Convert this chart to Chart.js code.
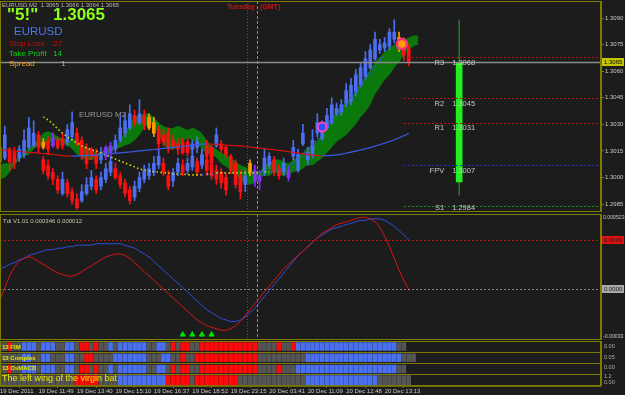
<!DOCTYPE html>
<html><head><meta charset="utf-8">
<script src="https://cdn.jsdelivr.net/npm/chart.js@4.4.1/dist/chart.umd.min.js"></script>
<style>
html,body{margin:0;padding:0;background:#1c1c1c;}
#wrap{position:relative;width:625px;height:395px;overflow:hidden;background:#1c1c1c;font-family:"Liberation Sans",Arial,sans-serif;}
canvas{position:absolute;left:0;}
.t{position:absolute;white-space:nowrap;line-height:1;}
</style></head><body>
<div id="wrap">
<canvas id="cMain" width="625" height="213" style="top:0;width:625px;height:213px"></canvas>
<canvas id="cTdi" width="625" height="127" style="top:213px;width:625px;height:127px"></canvas>
<canvas id="cBars" width="625" height="55" style="top:340px;width:625px;height:55px"></canvas>

<div class="t" style="left:2px;top:2px;font-size:6px;color:#b8b8b8">EURUSD,M2&nbsp; 1.3065 1.3066 1.3064 1.3065</div>
<div class="t" style="left:7px;top:6px;font-size:17px;font-weight:bold;color:#8cff1a">"5!"</div>
<div class="t" style="left:53px;top:6px;font-size:17px;font-weight:bold;color:#8cff1a">1.3065</div>
<div class="t" style="left:14px;top:26px;font-size:11.5px;color:#4a78f0">EURUSD</div>
<div class="t" style="left:9px;top:40px;font-size:8px;color:#e00000">Stop Loss</div>
<div class="t" style="left:53px;top:40px;font-size:8px;color:#e00000">27</div>
<div class="t" style="left:9px;top:50px;font-size:8px;color:#10d010">Take Profit</div>
<div class="t" style="left:53px;top:50px;font-size:8px;color:#10d010">14</div>
<div class="t" style="left:9px;top:60px;font-size:8px;color:#ffa020">Spread</div>
<div class="t" style="left:61px;top:60px;font-size:8px;color:#ffa020">1</div>
<div class="t" style="left:79px;top:111px;font-size:8px;color:#9a9a9a">EURUSD M2</div>
<div class="t" style="left:227px;top:3px;font-size:7px;font-weight:bold;color:#d01010">Tuesday</div>
<div class="t" style="left:260px;top:3px;font-size:7px;font-weight:bold;color:#d01010">(GMT)</div>
<div class="t" style="left:3px;top:218px;font-size:6px;color:#c8c8a8">Tdi V1.01 0.000346 0.000012</div>
<div class="t" style="left:2px;top:344px;font-size:6px;font-weight:bold;color:#e8e800">13 FIM</div>
<div class="t" style="left:2px;top:355px;font-size:6px;font-weight:bold;color:#e8e800">13 Complex</div>
<div class="t" style="left:2px;top:365px;font-size:6px;font-weight:bold;color:#e8e800">13 OsMACD</div>
<div class="t" style="left:2px;top:374px;font-size:9px;color:#e8e800">The left wing of the virgin bat</div>
<div class="t" style="left:604px;top:344px;font-size:5.5px;color:#b0b0a0">0.00</div>
<div class="t" style="left:604px;top:355px;font-size:5.5px;color:#b0b0a0">0.05</div>
<div class="t" style="left:604px;top:365px;font-size:5.5px;color:#b0b0a0">0.00</div>
<div class="t" style="left:604px;top:374px;font-size:5.5px;color:#b0b0a0">1.2</div>
<div class="t" style="left:604px;top:380px;font-size:5.5px;color:#b0b0a0">0.00</div>
</div>
<script>
// ---------------- DATA ----------------
const timeLabels = ["19 Dec 2011","19 Dec 11:49","19 Dec 13:40","19 Dec 15:10","19 Dec 16:37","19 Dec 18:52","19 Dec 23:15","20 Dec 03:41","20 Dec 11:09","20 Dec 12:48","20 Dec 13:13"];
const priceTicks = [1.2985,1.3000,1.3015,1.3030,1.3045,1.3060,1.3075,1.3090];

const openA = [1.3009,1.3011,1.3016,1.3014,1.3011,1.3013,1.3017,1.3018,1.3024,1.3017,
1.3021,1.3018,1.3021,1.3022,1.3020,1.3023,1.3025,1.3021,1.3017,1.3016,
1.3013,1.3010,1.3012,1.3014,1.3016,1.3021,1.3025,1.3028,1.3035,1.3031,
1.3035,1.3028,1.3031,1.3027,1.3024,1.3025,1.3021,1.3019,1.3020,1.3020,
1.3016,1.3017,1.3008,1.3018,1.3017,1.3018,1.3019,1.3017,1.3012,1.3008,
1.3001,1.2996,1.3003,1.3004,1.2998,1.3003,1.3007,1.3010,1.3005,1.3003,
1.3000,1.3012,1.3004,1.3019,1.3010,1.3013,1.3025,1.3022,1.3028,1.3031,
1.3036,1.3037,1.3042,1.3043,1.3048,1.3052,1.3057,1.3062,1.3067,1.3072,
1.3073,1.3074,1.3078,1.3079,1.3076,1.3073];
const closeA = [1.3017,1.3024,1.3009,1.3008,1.3016,1.3021,1.3028,1.3025,1.3017,1.3020,
1.3016,1.3022,1.3017,1.3018,1.3027,1.3031,1.3019,1.3012,1.3008,1.3012,
1.3008,1.3014,1.3017,1.3018,1.3021,1.3028,1.3032,1.3036,1.3031,1.3036,
1.3030,1.3034,1.3025,1.3019,1.3020,1.3017,1.3018,1.3016,1.3014,1.3014,
1.3019,1.3020,1.3013,1.3012,1.3008,1.3024,1.3016,1.3013,1.3004,1.2996,
1.2992,1.3001,1.3008,1.2998,1.3001,1.3011,1.3012,1.3003,1.3001,1.3008,
1.3004,1.3017,1.3013,1.3025,1.3014,1.3021,1.3031,1.3029,1.3035,1.3041,
1.3039,1.3041,1.3049,1.3052,1.3058,1.3062,1.3067,1.3072,1.3078,1.3075,
1.3076,1.3082,1.3082,1.3073,1.3069,1.3065];
const highA = [1.3021,1.3029,1.3017,1.3017,1.3018,1.3027,1.3034,1.3032,1.3026,1.3022,
1.3023,1.3025,1.3023,1.3025,1.3030,1.3037,1.3028,1.3023,1.3019,1.3017,
1.3016,1.3017,1.3018,1.3020,1.3024,1.3034,1.3036,1.3041,1.3038,1.3044,
1.3038,1.3036,1.3034,1.3029,1.3027,1.3028,1.3024,1.3022,1.3022,1.3022,
1.3021,1.3023,1.3016,1.3021,1.3018,1.3028,1.3021,1.3018,1.3013,1.3010,
1.3004,1.3004,1.3010,1.3007,1.3004,1.3016,1.3014,1.3012,1.3007,1.3011,
1.3006,1.3021,1.3016,1.3030,1.3017,1.3027,1.3036,1.3032,1.3039,1.3045,
1.3042,1.3044,1.3053,1.3056,1.3061,1.3065,1.3071,1.3075,1.3082,1.3078,
1.3079,1.3084,1.3089,1.3082,1.3079,1.3075];
const lowA = [1.3007,1.3010,1.3004,1.3005,1.3009,1.3011,1.3016,1.3017,1.3014,1.3016,
1.3013,1.3017,1.3016,1.3016,1.3018,1.3021,1.3018,1.3010,1.3005,1.3010,
1.3005,1.3008,1.3010,1.3012,1.3014,1.3020,1.3023,1.3027,1.3029,1.3030,
1.3027,1.3027,1.3023,1.3016,1.3018,1.3014,1.3016,1.3013,1.3013,1.3012,
1.3013,1.3014,1.3006,1.3010,1.3006,1.3017,1.3014,1.3011,1.3002,1.2994,
1.2988,1.2992,1.3001,1.2995,1.2993,1.3001,1.3005,1.3001,1.2999,1.3001,
1.2998,1.3010,1.3003,1.3018,1.3007,1.3011,1.3023,1.3021,1.3027,1.3030,
1.3035,1.3035,1.3040,1.3041,1.3046,1.3051,1.3055,1.3061,1.3066,1.3070,
1.3071,1.3072,1.3076,1.3071,1.3066,1.3063];
const orangeBarsA = [9,31,32,52,83];
const purpleBarsA = [11,22,23,53,54,60];

const overlayStart = 9;
const openB = [1.3010,1.3007,1.3003,1.2999,1.2991,1.2997,1.2992,1.2988,1.2987,1.2991,1.2995,1.2999,1.2995,1.2999,1.3003,1.3005,1.3001,1.2997,1.2993,1.2989,1.2994,1.2999,1.3001,1.3003,1.3007,1.3008,1.3001,1.2998,1.3003,1.3007,1.3004,1.3006,1.3009,1.3007,1.3010,1.3007,1.3004,1.3003,1.3000];
const closeB = [1.3004,1.3001,1.2999,1.2993,1.2999,1.2991,1.2987,1.2983,1.2992,1.2996,1.3000,1.2993,1.3000,1.3005,1.3009,1.3000,1.2996,1.2991,1.2987,1.2995,1.3000,1.3004,1.3005,1.3008,1.3012,1.3003,1.2995,1.3003,1.3008,1.3003,1.3008,1.3012,1.3003,1.3012,1.3004,1.3001,1.2999,1.2997,1.2993];
const highB = [1.3012,1.3010,1.3005,1.3001,1.3003,1.2999,1.2994,1.2991,1.2996,1.3000,1.3004,1.3001,1.3003,1.3008,1.3012,1.3008,1.3003,1.2999,1.2995,1.2998,1.3003,1.3007,1.3008,1.3012,1.3016,1.3011,1.3004,1.3005,1.3011,1.3010,1.3011,1.3016,1.3011,1.3016,1.3013,1.3010,1.3007,1.3005,1.3002];
const lowB = [1.3002,1.2999,1.2996,1.2991,1.2990,1.2989,1.2985,1.2982,1.2986,1.2990,1.2993,1.2991,1.2993,1.2997,1.3001,1.2999,1.2994,1.2989,1.2985,1.2987,1.2992,1.2997,1.2999,1.3001,1.3005,1.3001,1.2993,1.2995,1.3001,1.3001,1.3002,1.3004,1.3001,1.3005,1.3001,1.2999,1.2996,1.2994,1.2990];

const spanA = [1.3007,1.3008,1.3008,1.3009,1.3012,1.3014,1.3017,1.3019,1.3022,1.3025,
1.3026,1.3025,1.3023,1.3022,1.3021,1.3022,1.3021,1.3019,1.3017,1.3016,
1.3014,1.3014,1.3017,1.3017,1.3018,1.3021,1.3026,1.3030,1.3034,1.3035,
1.3036,1.3036,1.3034,1.3031,1.3029,1.3028,1.3028,1.3029,1.3028,1.3027,
1.3028,1.3027,1.3025,1.3021,1.3018,1.3016,1.3014,1.3013,1.3011,1.3009,
1.3007,1.3006,1.3004,1.3003,1.3003,1.3007,1.3008,1.3010,1.3010,1.3009,
1.3008,1.3010,1.3012,1.3014,1.3017,1.3018,1.3021,1.3025,1.3030,1.3034,
1.3037,1.3040,1.3043,1.3045,1.3049,1.3053,1.3057,1.3061,1.3065,1.3068,
1.3071,1.3073,1.3075,1.3077,1.3078,1.3079,1.3080,1.3080];
const spanB = [1.2999,1.3000,1.3003,1.3007,1.3010,1.3012,1.3013,1.3016,1.3018,1.3018,
1.3019,1.3021,1.3021,1.3020,1.3018,1.3016,1.3013,1.3011,1.3010,1.3010,
1.3011,1.3013,1.3013,1.3014,1.3016,1.3017,1.3018,1.3019,1.3021,1.3024,
1.3028,1.3030,1.3029,1.3024,1.3019,1.3016,1.3016,1.3017,1.3020,1.3022,
1.3021,1.3019,1.3016,1.3014,1.3013,1.3011,1.3008,1.3006,1.3004,1.3001,
1.2999,1.2996,1.2996,1.2997,1.3000,1.3001,1.3001,1.3003,1.3002,1.3001,
1.3002,1.3003,1.3004,1.3005,1.3007,1.3007,1.3009,1.3011,1.3014,1.3017,
1.3020,1.3022,1.3024,1.3027,1.3030,1.3034,1.3037,1.3041,1.3047,1.3051,
1.3055,1.3058,1.3062,1.3065,1.3069,1.3072,1.3074,1.3075];

const maLine = [1.30156,1.30154,1.30151,1.30149,1.30147,1.30144,1.30142,1.30140,1.30137,1.30135,
1.30133,1.30130,1.30127,1.30124,1.30122,1.30121,1.30122,1.30123,1.30124,1.30126,
1.30127,1.30130,1.30132,1.30134,1.30137,1.30139,1.30142,1.30144,1.30147,1.30150,
1.30153,1.30156,1.30158,1.30161,1.30164,1.30167,1.30170,1.30172,1.30175,1.30178,
1.30181,1.30185,1.30188,1.30189,1.30188,1.30187,1.30185,1.30183,1.30181,1.30179,
1.30178,1.30175,1.30172,1.30169,1.30166,1.30163,1.30160,1.30157,1.30153,1.30150,
1.30146,1.30142,1.30138,1.30134,1.30130,1.30126,1.30123,1.30122,1.30123,1.30125,
1.30128,1.30132,1.30137,1.30143,1.30149,1.30155,1.30162,1.30169,1.30177,1.30185,
1.30194,1.30203,1.30213,1.30224,1.30236,1.30249];

const dotStart = 9;
const dotLine = [1.30342,1.30325,1.30302,1.30274,1.30251,1.30229,1.30212,1.30195,1.30178,1.30167,
1.30156,1.30150,1.30139,1.30127,1.30116,1.30105,1.30093,1.30082,1.30071,1.30060,
1.30048,1.30043,1.30037,1.30031,1.30031,1.30026,1.30026,1.30020,1.30020,1.30020,
1.30015,1.30015,1.30015,1.30015,1.30020,1.30020,1.30026,1.30026,1.30026,1.30026,
1.30026,1.30026,1.30026,1.30026,1.30026,1.30026,1.30031,1.30031,1.30037,1.30043,
1.30054,1.30065,1.30082,1.30105,1.30127,1.30156,1.30184,1.30218,1.30251,1.30285,
1.30319,1.30353,1.30387,1.30421,1.30454,1.30488,1.30522,1.30556,1.30590,1.30624,
1.30657,1.30691];

const pivotNames = ["R3","R2","R1","FPV","S1"];
const pivotValues = [1.3068,1.3045,1.3031,1.3007,1.2984];
const pivotStartX = 84;
const dayBarX = 95.5;
const dayBody = [1.29975,1.3065];
const dayRange = [1.2990,1.3089];
const sessionX = [51.4,53.5];

const signalRingX = [67], signalRingY = [1.30285];
const signalFlowerX = [83.6], signalFlowerY = [1.30753];

const tdiBlue = [0.00015,0.00016,0.00018,0.00019,0.00021,0.00022,0.00024,0.00025,0.00026,0.00027,
0.00028,0.00028,0.00029,0.00029,0.00030,0.00030,0.00031,0.00031,0.00031,0.00031,
0.00032,0.00032,0.00032,0.00032,0.00032,0.00032,0.00031,0.00030,0.00029,0.00027,
0.00025,0.00023,0.00020,0.00017,0.00014,0.00011,0.00008,0.00005,0.00002,-0.00001,
-0.00004,-0.00007,-0.00010,-0.00013,-0.00015,-0.00017,-0.00019,-0.00020,-0.00021,-0.00021,
-0.00020,-0.00018,-0.00015,-0.00012,-0.00008,-0.00004,0.00000,0.00004,0.00008,0.00012,
0.00016,0.00020,0.00024,0.00027,0.00030,0.00033,0.00036,0.00038,0.00040,0.00042,
0.00043,0.00044,0.00045,0.00046,0.00047,0.00048,0.00048,0.00049,0.00049,0.00049,
0.00048,0.00046,0.00044,0.00041,0.00038,0.000346];
const tdiRed = [-0.00006,0.00002,0.00010,0.00016,0.00020,0.00022,0.00023,0.00022,0.00020,0.00018,
0.00016,0.00014,0.00012,0.00011,0.00010,0.00010,0.00011,0.00013,0.00015,0.00017,
0.00019,0.00021,0.00023,0.00024,0.00025,0.00025,0.00024,0.00022,0.00019,0.00016,
0.00013,0.00010,0.00007,0.00004,0.00001,-0.00002,-0.00005,-0.00008,-0.00011,-0.00014,
-0.00017,-0.00020,-0.00022,-0.00024,-0.00025,-0.00026,-0.00027,-0.00027,-0.00026,-0.00024,
-0.00021,-0.00017,-0.00013,-0.00009,-0.00005,-0.00001,0.00003,0.00007,0.00011,0.00015,
0.00018,0.00021,0.00024,0.00027,0.00030,0.00033,0.00036,0.00039,0.00041,0.00043,
0.00045,0.00046,0.00047,0.00048,0.00049,0.00050,0.00050,0.00049,0.00047,0.00043,
0.00037,0.00030,0.00022,0.00014,0.00007,0.000012];
const tdiMin = -0.00033, tdiMax = 0.000523;
const arrowX = [38,40,42,44];
const arrowLevel = -0.0003;

const rowFIM     = "ggrggbbbgbbbggbbgrrgrggbgbbbbbbggbbgrgrrggrrrrrrrrrrrrggggrggrbbbbbbbbbbbbbbbbbbbbbgg";
const rowComplex = "gggggbbggbbgggbbggrrggggbbbbbbbgggbbggrggrrrrrrrrrrrrrggggggggggbbbbbbbbbbbbbbbbbbbbggg";
const rowOsMACD  = "ggrggbbbgbbbggbbgrrgrggbgbbbbbbggbbgrgrrggrrrrrrrrrrrrggggrgggbbbbbbbbbbbbbbbbbbbbbgg";
const rowBat     = "ggggggggggggggggrrrrrggggbbbbbbbbbbrrrrrgrrrrrrrrrggggggggggggggbbbbbbbbbbbbbbbggggggg";

// ---------------- STYLE ----------------
const OLIVE = '#7c7c00';
const UP = '#4a6ff0', DOWN = '#ff1010', ORANGE = '#ff9a00', PURPLE = '#8030ff';
const FONT = '"Liberation Sans", Arial, sans-serif';
const X_MAX = 125;
const cellColor = {b:'#4a70f0', r:'#ff0a0a', g:'#555555'};

const xy = (arr, start=0) => arr.map((v,k)=>({x:k+start, y:v}));
function candleSets(open, close, high, low, start, orange, purple, order){
  const cols = open.map((o,k)=> orange.includes(k+start)?ORANGE : purple.includes(k+start)?PURPLE : (close[k]>=o?UP:DOWN));
  return [
    {type:'bar', data: high.map((h,k)=>({x:k+start, y:[low[k],h]})), backgroundColor: cols, barThickness:1, grouped:false, order: order+1},
    {type:'bar', data: open.map((o,k)=>({x:k+start, y:[o,close[k]]})), backgroundColor: cols, barThickness:3, grouped:false, minBarLength:1, order}
  ];
}
function rightAxis(extra){
  return Object.assign({
    position:'right',
    afterFit(s){ s.width = 24; s.paddingTop = 0; s.paddingBottom = 0; },
    border:{display:true, color:OLIVE, width:1},
    grid:{drawOnChartArea:false, drawTicks:true, tickLength:3, color:OLIVE},
    ticks:{color:'#c8c8c8', font:{family:FONT, size:6}, padding:1}
  }, extra);
}
const hiddenX = {type:'linear', min:0, max:X_MAX, offset:false, display:false};

function drawSessions(chart){
  const {ctx, chartArea:a, scales:{x}} = chart;
  ctx.save();
  sessionX.forEach((v,k)=>{
    const px = Math.round(x.getPixelForValue(v)) + 0.5;
    ctx.strokeStyle = k ? '#a0a000' : '#5c5c3c';
    ctx.setLineDash(k ? [3,2] : [1,2]);
    ctx.lineWidth = 1;
    ctx.beginPath(); ctx.moveTo(px, a.top); ctx.lineTo(px, a.bottom); ctx.stroke();
  });
  ctx.restore();
}
function drawFrame(chart){
  const {ctx, chartArea:a} = chart;
  ctx.save(); ctx.strokeStyle = OLIVE; ctx.lineWidth = 1;
  ctx.strokeRect(a.left+0.5, a.top+0.5, a.right-a.left-1, a.bottom-a.top);
  ctx.restore();
}
const pivotColor = n => n[0]==='R' ? '#c01010' : n[0]==='S' ? '#10a010' : '#2030c8';

const mainOverlay = {
  id:'mainOverlay',
  beforeDatasetsDraw(chart){ drawSessions(chart); },
  afterDatasetsDraw(chart){
    const {ctx, chartArea:a, scales:{x,y}} = chart;
    ctx.save();
    const x0 = x.getPixelForValue(pivotStartX);
    pivotValues.forEach((v,k)=>{
      const py = Math.round(y.getPixelForValue(v)) + 0.5;
      ctx.strokeStyle = pivotColor(pivotNames[k]); ctx.setLineDash([2,2]); ctx.lineWidth = 1;
      ctx.beginPath(); ctx.moveTo(x0, py); ctx.lineTo(a.right, py); ctx.stroke();
    });
    const cp = closeA[closeA.length-1];
    const cy = Math.round(y.getPixelForValue(cp)) + 0.5;
    ctx.setLineDash([]); ctx.strokeStyle = '#8a8a8a'; ctx.lineWidth = 1.5;
    ctx.beginPath(); ctx.moveTo(a.left, cy); ctx.lineTo(a.right, cy); ctx.stroke();
    const bx = x.getPixelForValue(dayBarX);
    ctx.font = '7.5px ' + FONT; ctx.fillStyle = '#c8c8c8'; ctx.textBaseline = 'top';
    pivotValues.forEach((v,k)=>{
      const py = Math.min(y.getPixelForValue(v) + 2, a.bottom - 7);
      ctx.textAlign = 'right'; ctx.fillText(pivotNames[k], bx - 15, py);
      ctx.textAlign = 'left'; ctx.fillText(v.toFixed(4), bx - 7, py);
    });
    ctx.restore();
  },
  afterDraw(chart){
    drawFrame(chart);
    const {ctx, chartArea:a, scales:{y}} = chart;
    const cp = closeA[closeA.length-1];
    const py = y.getPixelForValue(cp);
    ctx.save();
    ctx.fillStyle = '#c4c400'; ctx.fillRect(a.right+1, Math.round(py)-4, 22, 8);
    ctx.fillStyle = '#000'; ctx.font = '6px ' + FONT; ctx.textBaseline = 'middle'; ctx.textAlign = 'left';
    ctx.fillText(cp.toFixed(4), a.right+3, Math.round(py));
    ctx.restore();
  }
};

const maSeg = ctx => { const d = ctx.p1.parsed.y - ctx.p0.parsed.y; return d > 0.000004 ? '#3a5ae8' : d < -0.000004 ? '#d81010' : '#e0e000'; };
const dotSeg = ctx => (ctx.p1.parsed.y - ctx.p0.parsed.y > 0.00001) ? '#3050ff' : '#d8d800';

new Chart(document.getElementById('cMain'), {
  type:'bar',
  data:{ datasets:[
    {type:'line', data:xy(spanA), borderWidth:0, borderColor:'rgba(0,0,0,0)', pointRadius:0, fill:false, order:20, tension:0.3},
    {type:'line', data:xy(spanB), borderWidth:0, borderColor:'rgba(0,0,0,0)', pointRadius:0, fill:'-1', backgroundColor:'#0a780a', order:20, tension:0.3},
    ...candleSets(openB, closeB, highB, lowB, overlayStart, [], [], 8),
    ...candleSets(openA, closeA, highA, lowA, 0, orangeBarsA, purpleBarsA, 5),
    {type:'bar', data:[{x:dayBarX, y:dayRange}], backgroundColor:'#2e6e2e', barThickness:1, grouped:false, order:4},
    {type:'bar', data:[{x:dayBarX, y:dayBody}], backgroundColor:'#22ee22', barThickness:6, grouped:false, order:3},
    {type:'line', data:xy(maLine), borderWidth:1.2, pointRadius:0, segment:{borderColor:maSeg}, borderColor:'#3a5ae8', order:2, tension:0.2},
    {type:'line', data:xy(dotLine, dotStart), borderWidth:1.6, borderDash:[1.5,2.5], pointRadius:0, segment:{borderColor:dotSeg}, borderColor:'#d8d800', order:2},
    {type:'scatter', data:signalRingX.map((v,k)=>({x:v, y:signalRingY[k]})), pointRadius:4.5, pointBackgroundColor:'#3050ff', pointBorderColor:'#ff40c0', pointBorderWidth:2, order:1},
    {type:'scatter', data:signalFlowerX.map((v,k)=>({x:v, y:signalFlowerY[k]})), pointRadius:5, pointBackgroundColor:'#ffa000', pointBorderColor:'#ff3080', pointBorderWidth:2.5, order:1}
  ]},
  options:{
    responsive:false, animation:false, events:[],
    layout:{autoPadding:false, padding:{top:1, bottom:2, left:0, right:0}},
    plugins:{legend:{display:false}, tooltip:{enabled:false}},
    scales:{
      x: hiddenX,
      y: rightAxis({type:'linear', min:1.29811, max:1.30996,
          afterBuildTicks(s){ s.ticks = priceTicks.map(v=>({value:v})); },
          ticks:{color:'#c8c8c8', font:{family:FONT, size:6}, padding:1, callback:v=>Number(v).toFixed(4)}})
    }
  },
  plugins:[mainOverlay]
});

const tdiOverlay = {
  id:'tdiOverlay',
  beforeDatasetsDraw(chart){
    drawSessions(chart);
    const {ctx, chartArea:a, scales:{y}} = chart;
    ctx.save(); ctx.lineWidth = 1; ctx.setLineDash([2,2]);
    [[tdiBlue[tdiBlue.length-1], '#c01010'], [tdiRed[tdiRed.length-1], '#8a8a8a']].forEach(([v,c])=>{
      const py = Math.round(y.getPixelForValue(v)) + 0.5;
      ctx.strokeStyle = c; ctx.beginPath(); ctx.moveTo(a.left, py); ctx.lineTo(a.right, py); ctx.stroke();
    });
    ctx.restore();
  },
  afterDraw(chart){
    drawFrame(chart);
    const {ctx, chartArea:a, scales:{y}} = chart;
    ctx.save(); ctx.font = '6px ' + FONT; ctx.textBaseline = 'middle'; ctx.textAlign = 'left';
    [[tdiBlue[tdiBlue.length-1], '#e01010'], [tdiRed[tdiRed.length-1], '#a8a8a8']].forEach(([v,c])=>{
      const py = Math.round(y.getPixelForValue(v));
      ctx.fillStyle = c; ctx.fillRect(a.right+1, py-4, 22, 8);
      ctx.fillStyle = '#1a1a1a'; ctx.fillText(v.toFixed(4), a.right+3, py);
    });
    ctx.fillStyle = '#c8c8c8'; ctx.font = '5.2px ' + FONT;
    ctx.fillText(String(tdiMax), a.right+2, a.top+4);
    ctx.fillText(String(tdiMin), a.right+2, a.bottom-2);
    ctx.restore();
  }
};

new Chart(document.getElementById('cTdi'), {
  type:'line',
  data:{ datasets:[
    {data:xy(tdiRed), borderColor:'#e01414', borderWidth:1, pointRadius:0, tension:0.3, order:1},
    {data:xy(tdiBlue), borderColor:'#3050e0', borderWidth:1, pointRadius:0, tension:0.3, order:2},
    {type:'scatter', data:arrowX.map(v=>({x:v, y:arrowLevel})), pointStyle:'triangle', pointRadius:3, pointBackgroundColor:'#00e000', pointBorderColor:'#00e000', order:0}
  ]},
  options:{
    responsive:false, animation:false, events:[],
    layout:{autoPadding:false, padding:{top:1, bottom:1, left:0, right:0}},
    plugins:{legend:{display:false}, tooltip:{enabled:false}},
    scales:{
      x: hiddenX,
      y: rightAxis({type:'linear', min:tdiMin, max:tdiMax, ticks:{display:false}, grid:{display:false}})
    }
  },
  plugins:[tdiOverlay]
});

const rows = [rowFIM, rowComplex, rowOsMACD, rowBat];
const barsOverlay = { id:'barsOverlay', afterDraw(chart){ drawFrame(chart); } };
new Chart(document.getElementById('cBars'), {
  type:'bar',
  data:{ datasets: rows.map((row,r)=>({
    data: row.split('').map((c,k)=>({x:k, y: r===3 ? [r+0.08, r+0.92] : [r+0.15, r+0.85]})),
    backgroundColor: row.split('').map(c=>cellColor[c]),
    barThickness:4, grouped:false
  }))},
  options:{
    responsive:false, animation:false, events:[],
    layout:{autoPadding:false, padding:{top:1, bottom:0, left:0, right:0}},
    plugins:{legend:{display:false}, tooltip:{enabled:false}},
    scales:{
      x:{type:'linear', min:0, max:X_MAX, offset:false, position:'bottom',
         afterBuildTicks(s){ s.ticks = timeLabels.map((_,k)=>({value:k*8})); },
         afterFit(s){ s.paddingLeft = 0; s.paddingRight = 0; },
         border:{display:true, color:OLIVE},
         grid:{drawOnChartArea:false, drawTicks:true, tickLength:2, color:OLIVE},
         ticks:{autoSkip:false, maxRotation:0, align:'start', padding:0, color:'#c8c8c8', font:{family:FONT, size:6},
                callback:v=>timeLabels[Math.round(v/8)]}},
      y:{type:'linear', min:0, max:4, reverse:true, position:'right',
         afterBuildTicks(s){ s.ticks = [0,1,2,3,4].map(v=>({value:v})); },
         afterFit(s){ s.width = 24; s.paddingTop = 0; s.paddingBottom = 0; },
         border:{display:true, color:OLIVE},
         grid:{drawOnChartArea:true, drawTicks:false, color:OLIVE},
         ticks:{display:false}}
    }
  },
  plugins:[barsOverlay]
});
</script>
</body></html>
